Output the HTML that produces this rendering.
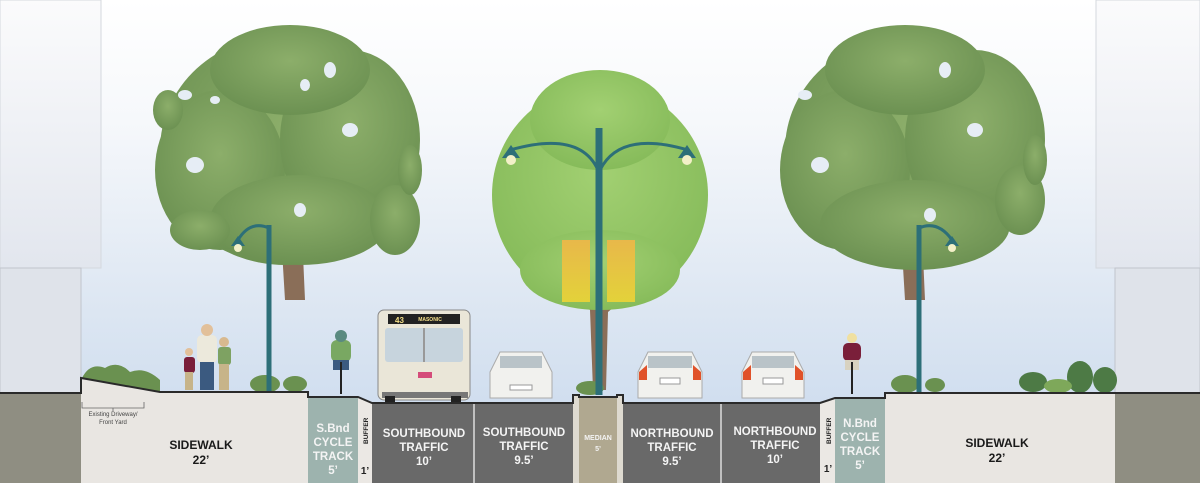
<!DOCTYPE html>
<html><head><meta charset="utf-8"><style>
html,body{margin:0;padding:0;background:#fff}
svg{display:block}
text{font-family:"Liberation Sans",sans-serif;font-weight:bold}
</style></head><body>
<svg width="1200" height="483" viewBox="0 0 1200 483" xmlns="http://www.w3.org/2000/svg">
<defs>
<linearGradient id="sky" x1="0" y1="0" x2="0" y2="1">
<stop offset="0" stop-color="#ffffff"/><stop offset="0.25" stop-color="#f6f8fb"/><stop offset="0.6" stop-color="#dfe8f3"/><stop offset="1" stop-color="#c6d7ec"/>
</linearGradient>
<linearGradient id="bld" x1="0" y1="0" x2="0" y2="1">
<stop offset="0" stop-color="#fbfbfc"/><stop offset="1" stop-color="#e2e6ee"/>
</linearGradient>
<radialGradient id="tg" cx="0.5" cy="0.4" r="0.6"><stop offset="0" stop-color="#8cae6a"/><stop offset="1" stop-color="#6c9152"/></radialGradient>
<radialGradient id="tc" cx="0.5" cy="0.4" r="0.6"><stop offset="0" stop-color="#a2d072"/><stop offset="1" stop-color="#86bb5a"/></radialGradient>
<linearGradient id="ban" x1="0" y1="0" x2="0" y2="1"><stop offset="0" stop-color="#e8b84a"/><stop offset="1" stop-color="#e3d23a"/></linearGradient>
</defs>
<rect width="1200" height="483" fill="url(#sky)"/>
<!-- buildings -->
<rect x="0" y="0" width="101" height="268" fill="url(#bld)" stroke="#d4d8de"/>
<rect x="0" y="268" width="81" height="126" fill="#dfe3ea" stroke="#c0c4cc"/>
<rect x="1096" y="0" width="104" height="268" fill="url(#bld)" stroke="#d4d8de"/>
<rect x="1115" y="268" width="85" height="126" fill="#dfe3ea" stroke="#c0c4cc"/>

<!-- left tree -->
<path d="M285 300 L282 250 L265 225 L272 222 L288 240 L292 215 L300 215 L298 245 L315 215 L322 220 L303 255 L305 300 Z" fill="#8a6e58"/>
<g fill="url(#tg)">
<ellipse cx="285" cy="150" rx="125" ry="115"/>
<ellipse cx="220" cy="170" rx="65" ry="80"/>
<ellipse cx="350" cy="140" rx="70" ry="90"/>
<ellipse cx="290" cy="70" rx="80" ry="45"/>
<ellipse cx="300" cy="220" rx="90" ry="45"/>
<ellipse cx="200" cy="230" rx="30" ry="20"/>
<ellipse cx="395" cy="220" rx="25" ry="35"/>
<ellipse cx="168" cy="110" rx="15" ry="20"/>
<ellipse cx="410" cy="170" rx="12" ry="25"/>
</g>
<g fill="#e6edf5"><ellipse cx="185" cy="95" rx="7" ry="5"/><ellipse cx="195" cy="165" rx="9" ry="8"/><ellipse cx="330" cy="70" rx="6" ry="8"/><ellipse cx="305" cy="85" rx="5" ry="6"/><ellipse cx="350" cy="130" rx="8" ry="7"/><ellipse cx="300" cy="210" rx="6" ry="7"/><ellipse cx="215" cy="100" rx="5" ry="4"/></g>

<!-- right tree -->
<path d="M905 300 L902 250 L885 225 L892 222 L908 240 L912 215 L920 215 L918 245 L935 215 L942 220 L923 255 L925 300 Z" fill="#8a6e58"/>
<g fill="url(#tg)">
<ellipse cx="910" cy="150" rx="125" ry="115"/>
<ellipse cx="845" cy="170" rx="65" ry="80"/>
<ellipse cx="975" cy="140" rx="70" ry="90"/>
<ellipse cx="905" cy="70" rx="80" ry="45"/>
<ellipse cx="915" cy="225" rx="95" ry="45"/>
<ellipse cx="1020" cy="200" rx="25" ry="35"/>
<ellipse cx="1035" cy="160" rx="12" ry="25"/>
</g>
<g fill="#e6edf5"><ellipse cx="805" cy="95" rx="7" ry="5"/><ellipse cx="820" cy="165" rx="9" ry="8"/><ellipse cx="945" cy="70" rx="6" ry="8"/><ellipse cx="975" cy="130" rx="8" ry="7"/><ellipse cx="930" cy="215" rx="6" ry="7"/></g>

<!-- center tree -->
<path d="M593 390 L590 310 L578 300 L583 296 L595 305 L600 295 L605 305 L617 296 L622 300 L608 312 L606 390 Z" fill="#8a6e58"/>
<g fill="url(#tc)">
<ellipse cx="600" cy="195" rx="108" ry="110"/>
<ellipse cx="600" cy="120" rx="70" ry="50"/>
<ellipse cx="600" cy="270" rx="80" ry="40"/>
</g>

<!-- shrubs -->
<g fill="#6a9150">
<path d="M82 378 Q90 362 105 368 Q118 360 130 372 Q145 366 160 380 L160 392 L82 392 Z"/>
<ellipse cx="265" cy="384" rx="15" ry="9"/><ellipse cx="295" cy="384" rx="12" ry="8"/>
<ellipse cx="590" cy="388" rx="14" ry="7"/>
<ellipse cx="905" cy="384" rx="14" ry="9"/><ellipse cx="935" cy="385" rx="10" ry="7"/>
</g>
<g fill="#4d7a45"><ellipse cx="1033" cy="382" rx="14" ry="10"/><ellipse cx="1080" cy="377" rx="13" ry="16"/><ellipse cx="1105" cy="380" rx="12" ry="13"/></g>
<ellipse cx="1058" cy="386" rx="14" ry="7" fill="#7ea85a"/>

<!-- lamps -->
<g stroke="#2d6f78" fill="none" stroke-width="5">
<line x1="269" y1="225" x2="269" y2="392"/><line x1="919" y1="225" x2="919" y2="392"/>
</g>
<g stroke="#2d6f78" fill="none" stroke-width="3">
<path d="M269 228 Q250 220 238 240"/><path d="M919 228 Q938 220 952 240"/>
<path d="M598 170 Q580 130 510 150"/><path d="M600 170 Q620 130 688 150"/>
</g>
<line x1="599" y1="128" x2="599" y2="395" stroke="#2d6f78" stroke-width="7"/>
<g fill="#2d6f78"><path d="M231 246 L245 246 L238 236Z"/><path d="M945 246 L959 246 L952 236Z"/><path d="M502 158 L520 158 L511 145Z"/><path d="M678 158 L696 158 L687 145Z"/></g>
<g fill="#f3f0c8"><circle cx="238" cy="248" r="4"/><circle cx="952" cy="248" r="4"/><circle cx="511" cy="160" r="5"/><circle cx="687" cy="160" r="5"/></g>
<rect x="562" y="240" width="28" height="62" fill="url(#ban)"/>
<rect x="607" y="240" width="28" height="62" fill="url(#ban)"/>

<!-- people -->
<g>
<rect x="197" y="335" width="20" height="28" rx="5" fill="#ece9dc"/><circle cx="207" cy="330" r="6" fill="#e2c09a"/>
<rect x="200" y="362" width="14" height="28" fill="#3b5a80"/>
<rect x="184" y="357" width="11" height="16" rx="3" fill="#7a1f3a"/><circle cx="189" cy="352" r="4" fill="#e2c09a"/><rect x="185" y="372" width="8" height="18" fill="#c7b489"/>
<rect x="218" y="347" width="13" height="18" rx="3" fill="#7ea262"/><circle cx="224" cy="342" r="5" fill="#d8b98f"/><rect x="219" y="364" width="10" height="26" fill="#c7b489"/>
</g>
<!-- cyclists -->
<g><rect x="331" y="340" width="20" height="22" rx="6" fill="#79a862"/><circle cx="341" cy="336" r="6" fill="#5a8a80"/><rect x="333" y="360" width="16" height="10" fill="#3b5a80"/><line x1="341" y1="362" x2="341" y2="394" stroke="#222" stroke-width="2"/></g>
<g><rect x="843" y="343" width="18" height="18" rx="5" fill="#7a1f3a"/><circle cx="852" cy="338" r="5" fill="#f0e0a0"/><rect x="845" y="360" width="14" height="10" fill="#d8d2c0"/><line x1="852" y1="362" x2="852" y2="394" stroke="#222" stroke-width="2"/></g>

<!-- bus -->
<g>
<rect x="378" y="310" width="92" height="90" rx="6" fill="#eae6d8" stroke="#888"/>
<rect x="388" y="314" width="72" height="10" fill="#222"/>
<text x="395" y="323" font-size="8" fill="#f5e08a">43</text><text x="430" y="321" font-size="5" fill="#f5e08a" text-anchor="middle">MASONIC</text>
<rect x="385" y="328" width="78" height="34" rx="3" fill="#c7d4dd"/>
<line x1="424" y1="328" x2="424" y2="362" stroke="#999" stroke-width="2"/>
<rect x="418" y="372" width="14" height="6" fill="#d44c7a"/>
<rect x="382" y="392" width="86" height="6" fill="#777"/>
<rect x="385" y="396" width="10" height="8" fill="#222"/><rect x="451" y="396" width="10" height="8" fill="#222"/>
</g>
<!-- cars -->
<g>
<path d="M490 398 L490 372 L500 352 L542 352 L552 372 L552 398 Z" fill="#f1f1ee" stroke="#aaa"/>
<rect x="500" y="356" width="42" height="12" fill="#b9c3c8"/><rect x="510" y="385" width="22" height="5" fill="#fff" stroke="#999"/>
<path d="M638 398 L638 372 L648 352 L692 352 L702 372 L702 398 Z" fill="#f1f1ee" stroke="#aaa"/>
<rect x="648" y="356" width="44" height="12" fill="#b9c3c8"/><path d="M639 372 L647 365 L647 380 L639 380Z" fill="#e0522a"/><path d="M701 372 L693 365 L693 380 L701 380Z" fill="#e0522a"/><rect x="660" y="378" width="20" height="6" fill="#fff" stroke="#999"/>
<path d="M742 398 L742 372 L752 352 L794 352 L804 372 L804 398 Z" fill="#f1f1ee" stroke="#aaa"/>
<rect x="752" y="356" width="42" height="12" fill="#b9c3c8"/><path d="M743 372 L751 365 L751 380 L743 380Z" fill="#e0522a"/><path d="M803 372 L795 365 L795 380 L803 380Z" fill="#e0522a"/><rect x="763" y="378" width="20" height="6" fill="#fff" stroke="#999"/>
</g>

<!-- ground section -->
<rect x="0" y="393" width="82" height="90" fill="#8f8e82"/>
<rect x="1115" y="393" width="85" height="90" fill="#8f8e82"/>
<path d="M81 393 L81 378 L160 392 L308 392 L308 483 L81 483 Z" fill="#e9e6e2"/>
<rect x="308" y="397" width="50" height="86" fill="#9db3ae"/>
<path d="M358 397 L372 403 L372 483 L358 483 Z" fill="#ebe8e4"/>
<rect x="372" y="403" width="201" height="80" fill="#696969"/>
<line x1="474" y1="403" x2="474" y2="483" stroke="#ddd" stroke-width="1.5"/>
<rect x="573" y="395" width="6" height="88" fill="#dedad0"/>
<rect x="579" y="397" width="38" height="86" fill="#b0a890"/>
<rect x="617" y="395" width="6" height="88" fill="#dedad0"/>
<rect x="623" y="403" width="197" height="80" fill="#696969"/>
<line x1="721" y1="403" x2="721" y2="483" stroke="#ddd" stroke-width="1.5"/>
<path d="M820 403 L835 398 L835 483 L820 483 Z" fill="#ebe8e4"/>
<rect x="835" y="397" width="50" height="86" fill="#9db3ae"/>
<rect x="885" y="393" width="230" height="90" fill="#e9e6e2"/>
<path d="M0 393 L81 393 L81 378 L160 392 L308 392 L308 397 L358 397 L372 403 L573 403 L573 395 L579 395 L579 397 L617 397 L617 395 L623 395 L623 403 L820 403 L835 398 L885 398 L885 393 L1200 393" fill="none" stroke="#2a2a2a" stroke-width="2"/>

<!-- labels -->
<path d="M82 402 L82 408 L144 408 L144 402 M113 408 L113 411" fill="none" stroke="#666" stroke-width="0.8"/>
<text x="113" y="416" font-size="6" fill="#444" text-anchor="middle" style="font-weight:normal">Existing Driveway/</text>
<text x="113" y="424" font-size="6" fill="#444" text-anchor="middle" style="font-weight:normal">Front Yard</text>
<g font-size="12" fill="#1a1a1a" text-anchor="middle">
<text x="201" y="449">SIDEWALK</text><text x="201" y="464">22’</text>
<text x="997" y="447">SIDEWALK</text><text x="997" y="462">22’</text>
</g>
<g font-size="11.5" fill="#f4f4f4" text-anchor="middle">
<text x="333" y="432">S.Bnd</text><text x="333" y="446">CYCLE</text><text x="333" y="460">TRACK</text><text x="333" y="474">5’</text>
<text x="424" y="437">SOUTHBOUND</text><text x="424" y="451">TRAFFIC</text><text x="424" y="465">10’</text>
<text x="524" y="436">SOUTHBOUND</text><text x="524" y="450">TRAFFIC</text><text x="524" y="464">9.5’</text>
<text x="672" y="437">NORTHBOUND</text><text x="672" y="451">TRAFFIC</text><text x="672" y="465">9.5’</text>
<text x="775" y="435">NORTHBOUND</text><text x="775" y="449">TRAFFIC</text><text x="775" y="463">10’</text>
<text x="860" y="427">N.Bnd</text><text x="860" y="441">CYCLE</text><text x="860" y="455">TRACK</text><text x="860" y="469">5’</text>
</g>
<text x="598" y="440" font-size="7" fill="#f4f4f4" text-anchor="middle">MEDIAN</text>
<text x="598" y="451" font-size="7" fill="#f4f4f4" text-anchor="middle">5’</text>
<text transform="translate(368,444) rotate(-90)" font-size="6.5" fill="#222">BUFFER</text>
<text transform="translate(831,444) rotate(-90)" font-size="6.5" fill="#222">BUFFER</text>
<text x="365" y="474" font-size="10" fill="#222" text-anchor="middle">1’</text>
<text x="828" y="472" font-size="10" fill="#222" text-anchor="middle">1’</text>
</svg>
</body></html>
